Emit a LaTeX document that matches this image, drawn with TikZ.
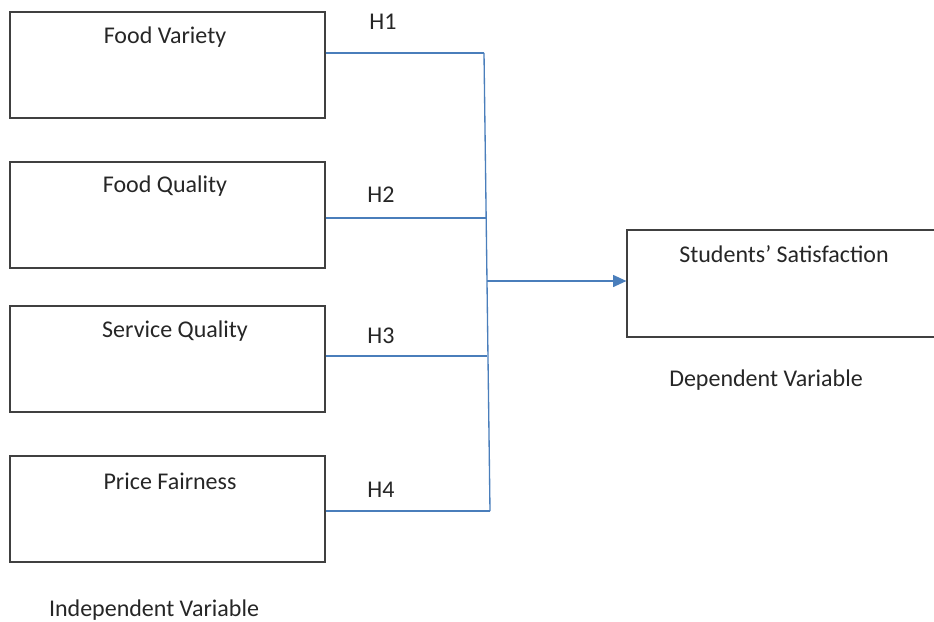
\documentclass[tikz,border=0pt]{standalone}
\usepackage{fontspec}
\setmainfont{Carlito}
\usepackage{tikz}
\usetikzlibrary{arrows.meta}
\usetikzlibrary{calc}
\definecolor{boxgray}{HTML}{404040}
\definecolor{linkblue}{HTML}{4A7EBB}

\begin{document}
\begin{tikzpicture}[
    x=0.75pt, y=-0.75pt,
    box/.style={draw=boxgray, line width=0.9pt, minimum width=236.25pt, minimum height=79.5pt, inner sep=0pt},
    link/.style={draw=linkblue, line width=1pt},
    every node/.style={font=\fontsize{18}{21}\selectfont, color=black!85}
    ]
   \useasboundingbox (0,0) rectangle (934,621);
   % junction points
   \coordinate (top) at (484,53);
   \coordinate (bot) at (490,511);
   \coordinate (h2) at (486,218);
   \coordinate (h3) at (487,356);
   \coordinate (mid) at (487,281);
   % independent variables
   \node[box] (fv) at (167.5,65) {};
   \node[box] (fq) at (167.5,215) {};
   \node[box] (sq) at (167.5,359) {};
   \node[box] (pf) at (167.5,509) {};
   \node (fvt) at (165,37) {Food Variety};
   \node (fqt) at (165,186) {Food Quality};
   \node (sqt) at (175,331) {Service Quality};
   \node (pft) at (170,481) {Price Fairness};
   \node (iv) at (154,610) {Independent Variable};
   % dependent variable
   \node[box, minimum width=270pt, minimum height=80.25pt] (ss) at (807,283.5) {};
   \node (sst) at (784,254) {Students’ Satisfaction};
   \node (dv) at (766,380) {Dependent Variable};
   % hypotheses
   \draw[link] (fv.east |- top) -- (top);
   \draw[link] (fq.east |- h2) -- (h2);
   \draw[link] (sq.east |- h3) -- (h3);
   \draw[link] (pf.east |- bot) -- (bot);
   \draw[link] (top) -- (bot);
   \draw[link, -{Triangle[length=10pt, width=9pt]}] (mid) -- (ss.west |- mid);
   \node (l1) at (383,22) {H1};
   \node (l2) at (381,195) {H2};
   \node (l3) at (381,336) {H3};
   \node (l4) at (381,490) {H4};
\end{tikzpicture}
\end{document}
